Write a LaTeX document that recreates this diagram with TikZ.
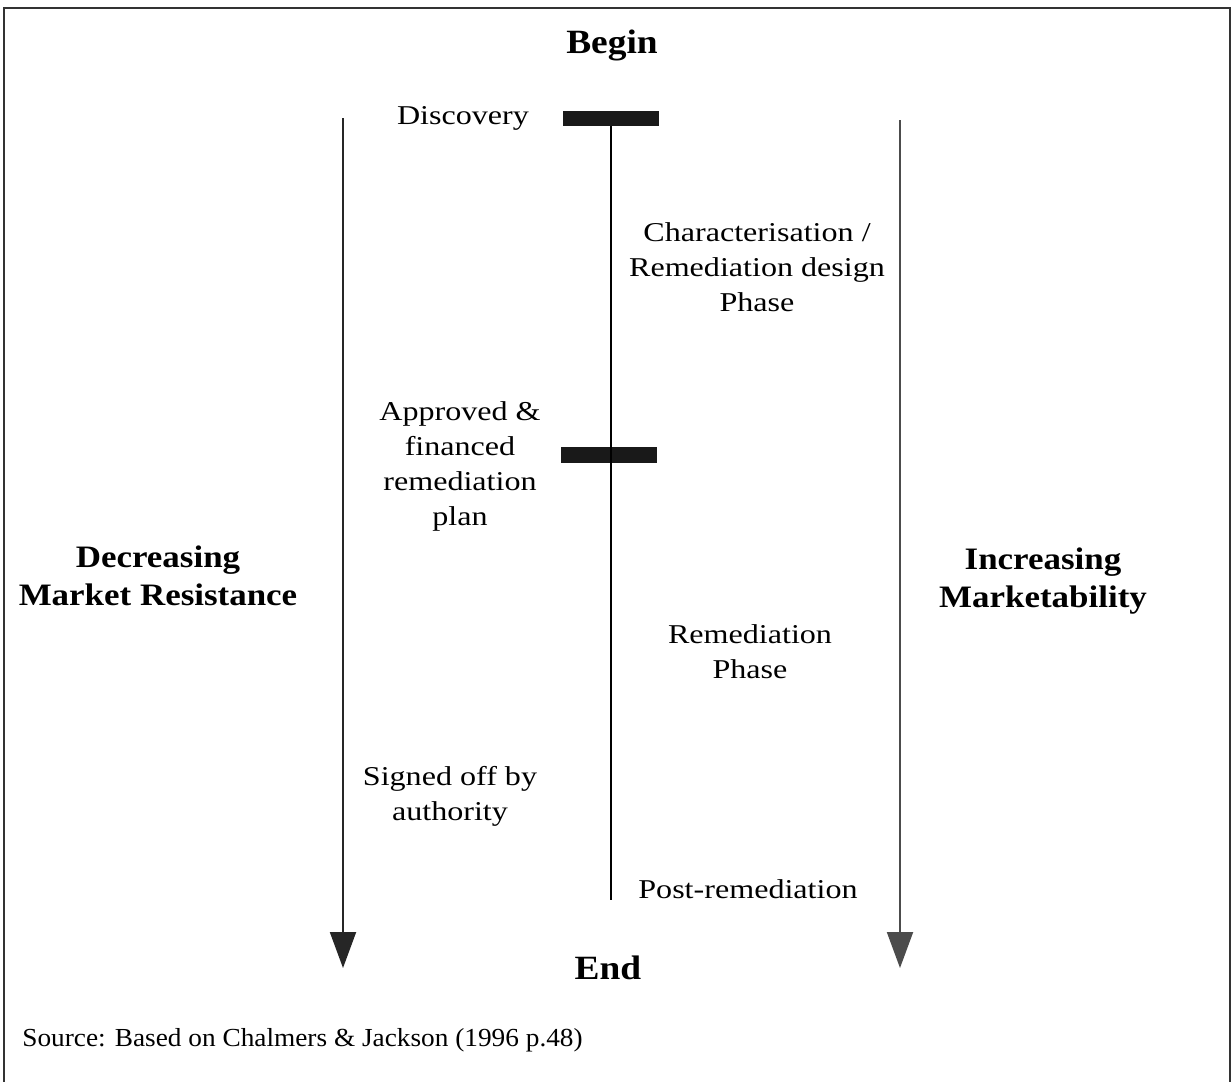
\documentclass[tikz,border=0pt]{standalone}
\usepackage{fontspec}
\setmainfont{Liberation Serif}
\newfontfamily\lblfont[FakeStretch=1.18]{Liberation Serif}
\newfontfamily\boldlblfont[FakeStretch=1.12,UprightFont=*,UprightFeatures={FakeBold=0}]{Liberation Serif Bold}
\newfontfamily\titlefont[FakeStretch=1.1]{Liberation Serif Bold}
\newfontfamily\srcfont[FakeStretch=1.05]{Liberation Serif}
\usetikzlibrary{arrows.meta}
\begin{document}
\begin{tikzpicture}[x=0.5pt,y=-0.5pt,
  lbl/.style={font=\lblfont\fontsize{13.6}{17.5}\selectfont, align=center, inner sep=0pt},
  blbl/.style={font=\boldlblfont\fontsize{15.6}{19}\selectfont, align=center, inner sep=0pt},
  ttl/.style={font=\titlefont\fontsize{17}{20}\selectfont, inner sep=0pt},
  bar/.style={fill=black!90, draw=none},
  flow/.style={line width=1pt, -{Triangle[width=13pt,length=18pt]}}]
\useasboundingbox (0,0) rectangle (1232,1082);
% frame
\draw[line width=0.7pt, black!80] (4,1082) -- (4,8) -- (1230,8) -- (1230,1082);
% titles
\node[ttl] (begin) at (612,45) {Begin};
\node[ttl] (end) at (608,968) {End};
% bars and centre line
\fill[bar] (563,111) rectangle (659,126);
\coordinate (top) at (611,126);
\coordinate (bot) at (611,900);
\fill[bar] (561,447) rectangle (657,463);
\draw[line width=1pt] (top) -- (bot);
% stage labels
\node[lbl] (disc) at (463,118) {Discovery};
\node[lbl] (char) at (757,267) {Characterisation /\\Remediation design\\Phase};
\node[lbl] (appr) at (460,466) {Approved \&\\financed\\remediation\\plan};
\node[lbl] (rem) at (750,652) {Remediation\\Phase};
\node[lbl] (sign) at (450,796) {Signed off by\\authority};
\node[lbl] (post) at (748,889) {Post-remediation};
% side labels
\node[blbl] (dec) at (158,576) {Decreasing\\Market Resistance};
\node[blbl] (inc) at (1043,581) {Increasing\\Marketability};
% arrows
\coordinate (la) at (343,118);
\coordinate (lb) at (343,968);
\coordinate (ra) at (900,120);
\coordinate (rb) at (900,968);
\draw[flow, black!85] (la) -- (lb);
\draw[flow, black!70] (ra) -- (rb);
% source
\node[font=\srcfont\fontsize{13}{16}\selectfont, inner sep=0pt, anchor=west] (src) at (22,1040) {Source: Based on Chalmers \& Jackson (1996 p.48)};
\end{tikzpicture}
\end{document}
